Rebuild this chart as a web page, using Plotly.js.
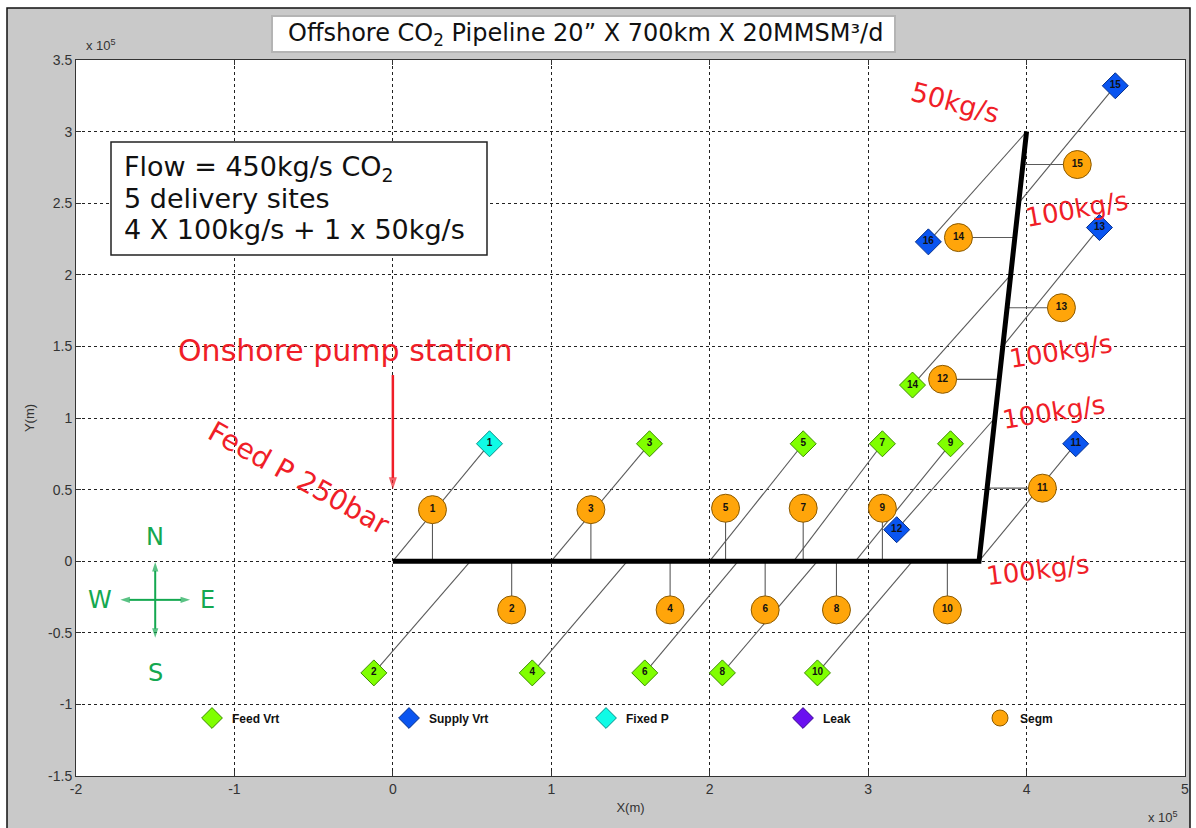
<!DOCTYPE html>
<html><head><meta charset="utf-8">
<script src="https://cdn.plot.ly/plotly-3.0.1.min.js"></script>
<style>html,body{margin:0;padding:0;background:#fff;}#chart{width:1196px;height:828px;}</style>
</head><body><div id="chart"></div>
<script>
// ---------- data (units of 1e5 m) ----------
const pipeX = [0, 3.7, 4.0];
const pipeY = [0, 0, 3.0];

const vtxId   = [1,2,3,4,5,6,7,8,9,10,11,12,13,14,15,16];
const vtxType = ['Fixed P','Feed Vrt','Feed Vrt','Feed Vrt','Feed Vrt','Feed Vrt','Feed Vrt','Feed Vrt',
                 'Feed Vrt','Feed Vrt','Supply Vrt','Supply Vrt','Supply Vrt','Feed Vrt','Supply Vrt','Supply Vrt'];
const vtxX  = [0.61,-0.12,1.62,0.88,2.59,1.59,3.09,2.08,3.52,2.68,4.31,3.18,4.46,3.28,4.56,3.38];
const vtxY  = [0.82,-0.78,0.82,-0.78,0.82,-0.78,0.82,-0.78,0.82,-0.78,0.82,0.22,2.33,1.23,3.32,2.23];
const nodeX = [0,0.49,1.0,1.48,2.0,2.18,2.53,2.68,2.92,3.28,3.7,3.8,3.85,3.9,3.95,4.0];
const nodeY = [0,0,0,0,0,0,0,0,0,0,0,1.0,1.5,2.0,2.5,3.0];

const segId     = [1,2,3,4,5,6,7,8,9,10,11,12,13,14,15];
const segX      = [0.25,0.75,1.25,1.75,2.10,2.35,2.59,2.80,3.09,3.50,4.10,3.47,4.22,3.57,4.32];
const segY      = [0.36,-0.34,0.36,-0.34,0.37,-0.34,0.37,-0.34,0.37,-0.34,0.51,1.27,1.77,2.26,2.77];
const segBranch = ['h','h','h','h','h','h','h','h','h','h','v','v','v','v','v'];

const legendNames = ['Feed Vrt','Supply Vrt','Fixed P','Leak','Segm'];
const xTickVals = [-2,-1,0,1,2,3,4,5];
const xTickText = ['-2','-1','0','1','2','3','4','5'];
const yTickVals = [-1.5,-1,-0.5,0,0.5,1,1.5,2,2.5,3,3.5];
const yTickText = ['-1.5','-1','-0.5','0','0.5','1','1.5','2','2.5','3','3.5'];

// feed arrow (onshore pump station) and compass, in axis units
const feedArrowX = [0, 0], feedArrowY = [1.30, 0.50];
const compassX = -1.5, compassY = -0.27, compassDX = 0.22, compassDY = 0.265;

// ---------- helpers ----------
function pipeXAt(y){
  const x0=pipeX[1], y0=pipeY[1], x1=pipeX[2], y1=pipeY[2];
  return x0 + (x1-x0)*(y-y0)/(y1-y0);
}
const linkX=[], linkY=[];
for(let i=0;i<vtxX.length;i++){ linkX.push(nodeX[i],vtxX[i],null); linkY.push(nodeY[i],vtxY[i],null); }
for(let i=0;i<segX.length;i++){
  if(segBranch[i]==='h'){ linkX.push(segX[i],segX[i],null); linkY.push(0,segY[i],null); }
  else { linkX.push(pipeXAt(segY[i]),segX[i],null); linkY.push(segY[i],segY[i],null); }
}

const styles = {
  'Feed Vrt':  {color:'#80ff00', line:'#3c8c00', symbol:'diamond', size:20},
  'Supply Vrt':{color:'#0a55f0', line:'#06308c', symbol:'diamond', size:20},
  'Fixed P':   {color:'#10fbe6', line:'#08908a', symbol:'diamond', size:20},
  'Leak':      {color:'#6a10f0', line:'#3a0890', symbol:'diamond', size:20},
  'Segm':      {color:'#ffa50a', line:'#8c5a00', symbol:'circle', size:28}
};
const labelFont = {family:'Liberation Sans, Arial, sans-serif', size:10, weight:'bold', color:'#111'};
const red = '#f01e28', green = '#14a850';

const traces = [];
traces.push({x:linkX, y:linkY, mode:'lines', line:{color:'#5a5a5a', width:1.1}, showlegend:false, hoverinfo:'skip'});
traces.push({x:pipeX, y:pipeY, mode:'lines', line:{color:'#000', width:5}, showlegend:false, hoverinfo:'skip'});

// red feed arrow
traces.push({x:feedArrowX, y:feedArrowY, mode:'lines+markers', showlegend:false, hoverinfo:'skip', cliponaxis:false,
  line:{color:red, width:2.5}, marker:{symbol:'arrow', angleref:'previous', size:[0,13], color:red, line:{width:0}}});
// compass: four arms from the centre
[[compassDX,0],[-compassDX,0],[0,compassDY],[0,-compassDY]].forEach(d=>{
  traces.push({x:[compassX, compassX+d[0]], y:[compassY, compassY+d[1]], mode:'lines+markers', showlegend:false,
    hoverinfo:'skip', line:{color:green, width:2}, marker:{symbol:'arrow', angleref:'previous', size:[0,10], color:green, line:{width:0}}});
});

legendNames.forEach(name=>{
  const st = styles[name];
  let xs=[], ys=[], tx=[];
  if(name==='Segm'){ xs=segX; ys=segY; tx=segId.map(String); }
  else {
    vtxType.forEach((t,i)=>{ if(t===name){ xs.push(vtxX[i]); ys.push(vtxY[i]); tx.push(String(vtxId[i])); } });
  }
  const tr = {x:xs.length?xs:[null], y:ys.length?ys:[null], name:name, mode:xs.length?'markers+text':'markers',
    cliponaxis:false, marker:{symbol:st.symbol, size:st.size, color:st.color, line:{color:st.line, width:1}}};
  if(xs.length){ tr.text = tx; tr.textposition='middle center'; tr.textfont=labelFont; }
  traces.push(tr);
});

const dv = 'DejaVu Sans, Verdana, sans-serif';
const redFont = {family:dv, size:26, color:red};
const W=1196,H=828, L=76, R=11, T=60, B=52;
const pw = W-L-R, ph = H-T-B;
const px = v => (v-L)/pw, py = v => (H-B-v)/ph;
const narrow = 'Liberation Sans Narrow, Liberation Sans, Arial, sans-serif';

function pAnn(x,y,text,font,xa){ return {xref:'paper', yref:'paper', x:px(x), y:py(y), text:text, showarrow:false,
  xanchor:xa||'center', yanchor:'middle', font:font}; }
function dAnn(x,y,text,font,ang){ return {x:x, y:y, text:text, showarrow:false, xanchor:'center', yanchor:'middle',
  textangle:ang||0, font:font}; }

const infoFont = {family:dv, size:27, color:'#111'};
const compassFont = {family:dv, size:24, color:green};
const annotations = [
  pAnn(585, 35, 'Offshore CO<sub>2</sub> Pipeline 20” X 700km X 20MMSM³/d', {family:dv, size:24, color:'#111'}),
  pAnn(122, 168, 'Flow = 450kg/s CO<sub>2</sub>', infoFont, 'left'),
  pAnn(122, 199, '5 delivery sites', infoFont, 'left'),
  pAnn(122, 229, '4 X 100kg/s + 1 x 50kg/s', infoFont, 'left'),
  dAnn(-0.30, 1.47, 'Onshore pump station', {family:dv, size:30, color:red}),
  dAnn(-0.59, 0.58, 'Feed P 250bar', {family:dv, size:28, color:red}, 29),
  dAnn(3.55, 3.20, '50kg/s', {family:dv, size:27, color:red}, 15),
  dAnn(4.32, 2.46, '100kg/s', redFont, -10),
  dAnn(4.22, 1.47, '100kg/s', redFont, -9),
  dAnn(4.17, 1.04, '100kg/s', redFont, -9),
  dAnn(4.07, -0.06, '100kg/s', redFont, -7),
  dAnn(compassX, 0.17, 'N', compassFont),
  dAnn(compassX, -0.78, 'S', compassFont),
  dAnn(-1.85, compassY, 'W', compassFont),
  dAnn(-1.17, compassY, 'E', compassFont),
  pAnn(101, 45, 'x 10<sup>5</sup>', {family:narrow, size:13, color:'#333'}),
  pAnn(1163, 817, 'x 10<sup>5</sup>', {family:narrow, size:13, color:'#333'})
];

const shapes = [
  {type:'rect', xref:'paper', yref:'paper', x0:px(7), x1:px(1190), y0:py(832), y1:py(8), fillcolor:'#c9c9c9', line:{color:'#111', width:1.5}, layer:'below'},
  {type:'rect', xref:'paper', yref:'paper', x0:0, x1:1, y0:0, y1:1, fillcolor:'#fff', line:{width:0}, layer:'below'},
  {type:'rect', xref:'paper', yref:'paper', x0:px(272), x1:px(895), y0:py(52), y1:py(16), fillcolor:'#fff', line:{color:'#b4b4b4', width:2}, layer:'below'},
  {type:'rect', xref:'paper', yref:'paper', x0:px(111), x1:px(487), y0:py(255), y1:py(142), fillcolor:'#fff', line:{color:'#222', width:1.5}, layer:'above'}
];

const axisFont = {family:narrow, size:14, color:'#333'};
const axisCommon = {showgrid:true, gridcolor:'#222', griddash:'dot', gridwidth:1, zeroline:false,
  showline:true, linecolor:'#333', linewidth:1, mirror:'ticks', ticks:'inside', ticklen:5, tickcolor:'#333',
  tickfont:axisFont, fixedrange:true};

const layout = {
  width:W, height:H, margin:{l:L, r:R, t:T, b:B},
  paper_bgcolor:'rgba(0,0,0,0)', plot_bgcolor:'rgba(0,0,0,0)',
  xaxis:Object.assign({}, axisCommon, {range:[-2,5], tickmode:'array', tickvals:xTickVals, ticktext:xTickText,
     title:{text:'X(m)', font:{family:narrow, size:13, color:'#333'}, standoff:7}}),
  yaxis:Object.assign({}, axisCommon, {range:[-1.5,3.5], tickmode:'array', tickvals:yTickVals, ticktext:yTickText,
     title:{text:'Y(m)', font:{family:narrow, size:13, color:'#333'}, standoff:10}}),
  showlegend:true,
  legend:{orientation:'h', x:px(192), y:py(718), xanchor:'left', yanchor:'middle', bgcolor:'rgba(0,0,0,0)',
    entrywidth:152, entrywidthmode:'pixels', itemclick:false, itemdoubleclick:false,
    font:{family:narrow, size:12, weight:'bold', color:'#111'}},
  annotations:annotations, shapes:shapes
};

Plotly.newPlot('chart', traces, layout, {displayModeBar:false, staticPlot:true});
</script></body></html>
